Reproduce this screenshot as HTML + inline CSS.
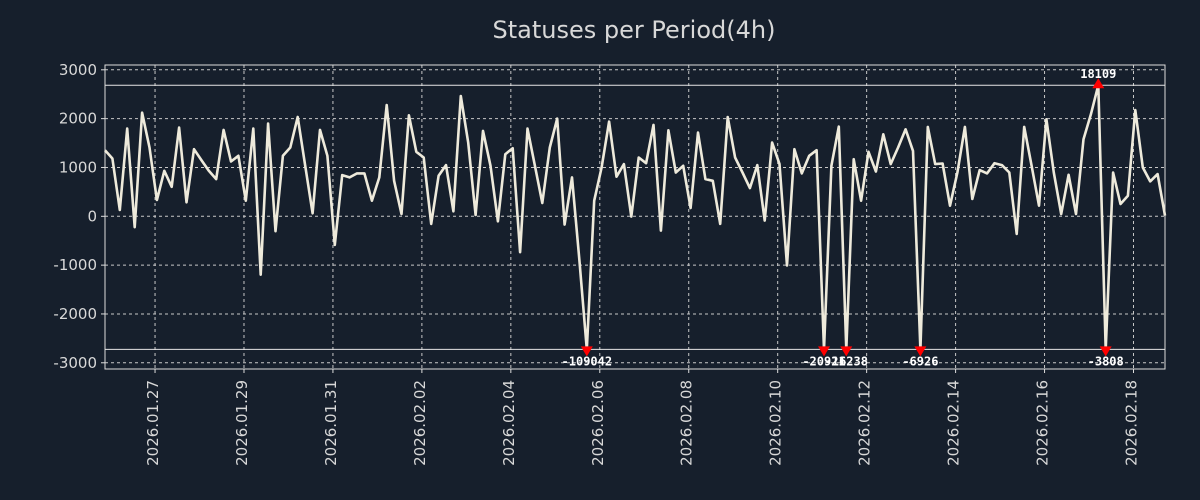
<!DOCTYPE html>
<html><head><meta charset="utf-8"><style>
html,body{margin:0;padding:0;background:#161f2c;}
svg{display:block;font-family:"DejaVu Sans","Liberation Sans",sans-serif;}
</style></head><body>
<svg id="chart" width="1200" height="500" viewBox="0 0 1200 500">
<rect width="1200" height="500" fill="#161f2c"/>
<text x="634" y="38" fill="#d8d8d8" font-size="24" text-anchor="middle">Statuses per Period(4h)</text>
<g id="grid"></g><g id="axes"></g><g id="series"></g><g id="marks"></g>
</svg>
<script>
const values = [1354,1184,129,1796,-224,2122,1408,333,932,605,1816,286,1374,1150,932,762,1769,1122,1238,320,1796,-1197,1898,-306,1238,1408,2034,1048,61,1769,1238,-585,844,796,878,878,320,796,2279,728,48,2068,1320,1204,-156,830,1048,102,2463,1510,27,1748,1034,-102,1272,1395,-735,1796,1034,272,1408,2000,-170,796,-900,-109042,320,1000,1939,810,1068,-7,1204,1088,1871,-293,1762,898,1034,170,1714,762,728,-156,2034,1204,898,578,1048,-88,1510,1068,-1007,1374,878,1238,1354,-20921,1034,1837,-16238,1170,320,1320,918,1680,1068,1408,1782,1340,-6926,1830,1068,1082,218,898,1830,354,946,878,1088,1048,898,-361,1830,1034,218,1986,898,48,850,48,1578,2088,18109,-3808,898,252,422,2177,1000,714,864,14];
const yTicks = [-3000,-2000,-1000,0,1000,2000,3000];
const xTickLabels = ["2026.01.27","2026.01.29","2026.01.31","2026.02.02","2026.02.04","2026.02.06","2026.02.08","2026.02.10","2026.02.12","2026.02.14","2026.02.16","2026.02.18"];
const clipHigh = 2684, clipLow = -2725;
const startHour = -27;
const stepHours = 4;

const L=105,R=1165,T=65,B=369;
const n=values.length;
const pxPerHour=(R-L)/((n-1)*stepHours);
const xOfHour=h=>L+(h-startHour)*pxPerHour;
const xOf=i=>xOfHour(startHour+i*stepHours);
const yOf=v=>216.3-v*0.04883;
const NS="http://www.w3.org/2000/svg";
function mk(tag,attrs,parent){const e=document.createElementNS(NS,tag);for(const k in attrs)e.setAttribute(k,attrs[k]);parent.appendChild(e);return e;}
const grid=document.getElementById('grid'),axes=document.getElementById('axes'),series=document.getElementById('series'),marks=document.getElementById('marks');

yTicks.forEach(v=>{
  const y=yOf(v);
  const g=mk('line',{x1:L,x2:R,y1:y,y2:y,stroke:'#c8c8c8','stroke-width':1,'stroke-dasharray':'3,3'},grid);
  
  
  mk('line',{x1:L-4,x2:L,y1:y,y2:y,stroke:'#ddd'},axes);
  const t=mk('text',{x:L-8,y:y+5,fill:'#d8d8d8','font-size':15,'text-anchor':'end'},axes);
  t.textContent=v;
  
  
});
xTickLabels.forEach((lab,k)=>{
  const x=xOfHour(k*48);
  const g=mk('line',{x1:x,x2:x,y1:T,y2:B,stroke:'#c8c8c8','stroke-width':1,'stroke-dasharray':'3,3'},grid);
  
  
  mk('line',{x1:x,x2:x,y1:B,y2:B+4,stroke:'#ddd'},axes);
  const t=mk('text',{x:0,y:0,fill:'#d8d8d8','font-size':15,'text-anchor':'end',transform:`translate(${x+3},${B+11}) rotate(-90)`},axes);
  t.textContent=lab;
  
  
});
const frame=mk('rect',{x:L,y:T,width:R-L,height:B-T,fill:'none',stroke:'#ddd','stroke-width':1},axes);


[clipHigh,clipLow].forEach(v=>{
  const l=mk('line',{x1:L,x2:R,y1:yOf(v),y2:yOf(v),stroke:'#e6e6e6','stroke-width':1},axes);
  
  
});
const clipped=values.map(v=>Math.max(clipLow,Math.min(clipHigh,v)));
const pts=clipped.map((v,i)=>xOf(i).toFixed(1)+','+yOf(v).toFixed(1)).join(' ');
const line=mk('polyline',{points:pts,fill:'none',stroke:'#eeeadb','stroke-width':2.6,'stroke-linejoin':'round'},series);


values.forEach((v,i)=>{
  if(v<=clipHigh&&v>=clipLow)return;
  const x=xOf(i),y=yOf(v>clipHigh?clipHigh:clipLow);
  const up=v>clipHigh;
  const p=mk('polygon',{points:up?`${x-6},${y+3} ${x+6},${y+3} ${x},${y-7}`:`${x-6},${y-3} ${x+6},${y-3} ${x},${y+7}`,fill:'#ff0000'},marks);
  
  
  const t=mk('text',{x:x,y:up?y-7:y+16,fill:'#ffffff','font-size':12,'font-weight':'bold','text-anchor':'middle','font-family':'"DejaVu Sans Mono","Liberation Mono",monospace'},marks);
  t.textContent=v;
  
  
});
</script>
</body></html>
